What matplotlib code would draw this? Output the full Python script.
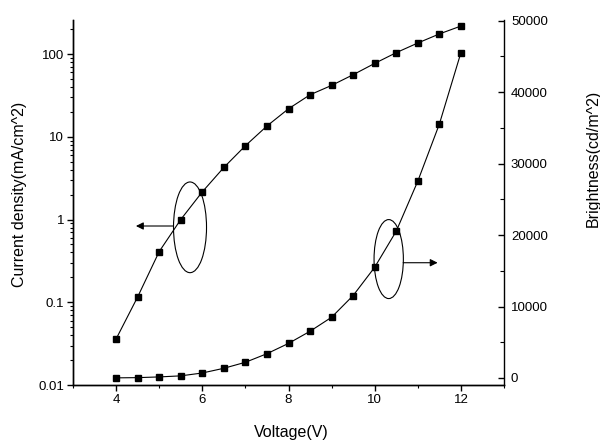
import matplotlib
matplotlib.use("Agg")
import matplotlib.pyplot as plt
from matplotlib.patches import Ellipse
from matplotlib.ticker import (MultipleLocator, LogLocator, FuncFormatter,
                               NullFormatter, FixedLocator)

plt.rcParams["font.family"] = ["Liberation Sans", "DejaVu Sans"]

# Device J-V-L data
voltage = [4.0, 4.5, 5.0, 5.5, 6.0, 6.5, 7.0, 7.5, 8.0,
           8.5, 9.0, 9.5, 10.0, 10.5, 11.0, 11.5, 12.0]
current_density = [0.036, 0.116, 0.41, 1.0, 2.16, 4.26, 7.8, 13.5, 21.8,
                   32.2, 41.8, 56.3, 77.1, 104, 136, 175, 218]
brightness = [20, 50, 150, 300, 700, 1360, 2200, 3400, 4840,
              6540, 8500, 11540, 15500, 20550, 27550, 35530, 45520]

left_ticks = [0.01, 0.1, 1, 10, 100]
right_ticks = [0, 10000, 20000, 30000, 40000, 50000]

fig = plt.figure(figsize=(6.0, 4.41), dpi=100)
ax = fig.add_axes([73 / 600, 1 - 385 / 441, 431 / 600, 365 / 441])
ax2 = ax.twinx()

line_kw = dict(color="black", lw=0.8, marker="s", ms=5.0,
               markerfacecolor="black", markeredgecolor="black")
ax.plot(voltage, current_density, **line_kw)
ax2.plot(voltage, brightness, **line_kw)

# Left axis: log current density
ax.set_yscale("log")
ax.set_ylim(0.01, 258)
ax.yaxis.set_major_locator(FixedLocator(left_ticks))
ax.yaxis.set_major_formatter(FuncFormatter(lambda v, p: "%g" % v))
ax.yaxis.set_minor_locator(LogLocator(base=10, subs=range(2, 10), numticks=20))
ax.yaxis.set_minor_formatter(NullFormatter())

# Bottom axis
ax.set_xlim(3, 13)
ax.xaxis.set_major_locator(MultipleLocator(2))
ax.xaxis.set_minor_locator(MultipleLocator(1))

# Right axis: linear brightness
ax2.set_ylim(-980, 50100)
ax2.yaxis.set_major_locator(FixedLocator(right_ticks))
ax2.yaxis.set_minor_locator(MultipleLocator(5000))
ax2.yaxis.set_major_formatter(FuncFormatter(lambda v, p: "%d" % v))

for a in (ax, ax2):
    a.spines["top"].set_visible(False)
    for s in a.spines.values():
        s.set_linewidth(1.0)
ax.spines["right"].set_visible(False)

ax.tick_params(axis="both", which="major", direction="out", length=4.5,
               width=1.0, labelsize=9.5, pad=2)
ax.tick_params(axis="both", which="minor", direction="out", length=2.5, width=0.8)
ax.tick_params(axis="y", which="both", right=False)
ax.tick_params(axis="x", which="both", top=False)
ax2.tick_params(axis="y", which="major", direction="in", length=4, width=1.0,
                labelsize=9.5, pad=5)
ax2.tick_params(axis="y", which="minor", direction="in", length=3, width=0.8)

ax.set_xlabel("Voltage(V)", fontsize=11.5)
ax.set_ylabel("Current density(mA/cm^2)", fontsize=11.5)
ax2.set_ylabel("Brightness(cd/m^2)", fontsize=11.5)
ax.xaxis.label.set(va="center", ha="center")
ax.yaxis.label.set(va="center", ha="center")
ax2.yaxis.label.set(va="center", ha="center")
ax.xaxis.set_label_coords(0.506, -0.129)
ax.yaxis.set_label_coords(-0.123, 0.523)
ax2.yaxis.set_label_coords(1.2065, 0.622)

# Ellipses marking each curve, with arrows pointing to its axis
ax.add_patch(Ellipse((0.2715, 0.432), 0.0766, 0.2485, transform=ax.transAxes,
                     fill=False, lw=0.8, ec="black", clip_on=False))
ax.add_patch(Ellipse((0.7325, 0.345), 0.068, 0.2164, transform=ax.transAxes,
                     fill=False, lw=0.8, ec="black", clip_on=False))
arrow_kw = dict(arrowstyle="-|>", lw=0.8, color="black", mutation_scale=11,
                shrinkA=0, shrinkB=0)
ax.annotate("", xy=(0.146, 0.4356), xytext=(0.233, 0.4356),
            xycoords="axes fraction", textcoords="axes fraction",
            arrowprops=arrow_kw)
ax.annotate("", xy=(0.846, 0.335), xytext=(0.766, 0.335),
            xycoords="axes fraction", textcoords="axes fraction",
            arrowprops=arrow_kw)

fig.savefig("out.png", dpi=100)
